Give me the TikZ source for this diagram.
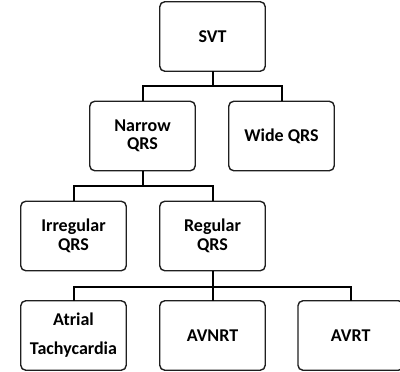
\documentclass[tikz,border=0pt]{standalone}
\usepackage{fontspec}
\setmainfont{Carlito}
\begin{document}
\begin{tikzpicture}[x=1pt,y=-1pt,
  box/.style={draw=black!88, line width=1.4pt, rounded corners=5pt,
    minimum width=105.5pt, minimum height=69.5pt, inner sep=0pt, outer sep=0pt,
    align=center, fill=white, font=\bfseries\fontsize{18}{18.5}\selectfont},
  conn/.style={draw=black, line width=2pt}]
\useasboundingbox (0,0) rectangle (400,372);
\node[box] (svt) at (212.5,36.5) {SVT};
\node[box] (narrow) at (142.5,136) {Narrow\\QRS};
\node[box] (wide) at (281.5,136) {Wide QRS};
\node[box] (irr) at (73.5,236) {Irregular\\QRS};
\node[box] (reg) at (212.5,236) {Regular\\QRS};
\node[box, font=\bfseries\fontsize{18}{29}\selectfont] (atrial) at (73.5,335.5) {Atrial\\Tachycardia};
\node[box] (avnrt) at (212.5,335.5) {AVNRT};
\node[box] (avrt) at (350.7,335.5) {AVRT};
\coordinate (j1) at (212.5,86);
\coordinate (j2) at (142.5,186);
\coordinate (j3) at (212.5,287);
\draw[conn] (svt.south) -- (j1);
\draw[conn] (narrow.north) |- (j1) -| (wide.north);
\draw[conn] (narrow.south) -- (j2);
\draw[conn] (irr.north) |- (j2) -| (reg.north);
\draw[conn] (reg.south) -- (avnrt.north);
\draw[conn] (atrial.north) |- (j3) -| (avrt.north);
\end{tikzpicture}
\end{document}
